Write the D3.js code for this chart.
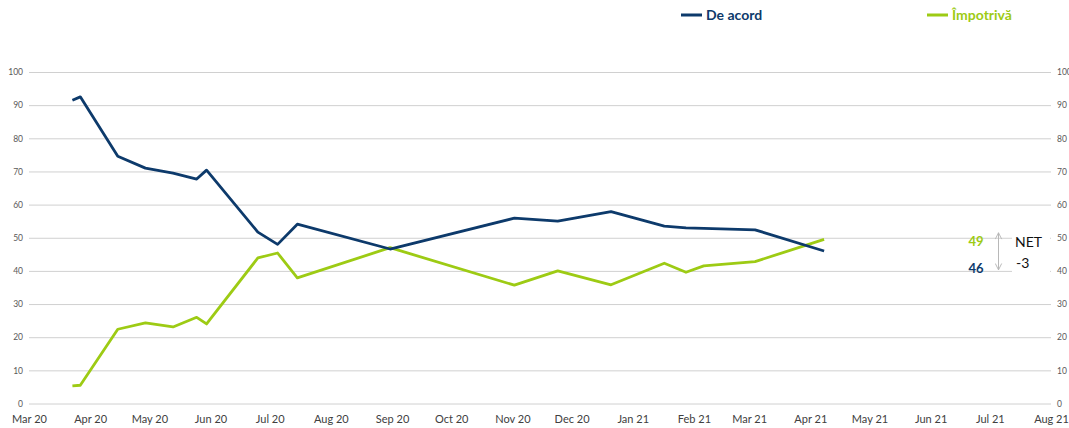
<!DOCTYPE html>
<html><head><meta charset="utf-8">
<script src="https://cdn.jsdelivr.net/npm/d3@7/dist/d3.min.js"></script>
<style>body{margin:0;background:#fff}svg{display:block}</style>
</head><body><svg id="c" width="1069" height="428"></svg>
<script>
const dates = ["2020-03-23","2020-03-27","2020-04-15","2020-04-29","2020-05-13","2020-05-25","2020-05-30","2020-06-25","2020-07-05","2020-07-15","2020-08-31","2020-11-02","2020-11-24","2020-12-21","2021-01-17","2021-01-28","2021-02-06","2021-03-04","2021-04-08"];
const deAcord = [91.5,92.5,74.6,71,69.5,67.7,70.4,51.7,48,54.1,46.6,55.9,55,57.9,53.5,53,52.8,52.4,46];
const impotriva = [5.3,5.5,22.4,24.3,23.1,26,24,43.9,45.4,37.9,47,35.7,40,35.8,42.3,39.6,41.5,42.8,49.5];
const seriesNames = ["De acord","Împotrivă"];
const yTicks = [0,10,20,30,40,50,60,70,80,90,100];
const monthTicks = ["2020-03-01","2020-04-01","2020-05-01","2020-06-01","2020-07-01","2020-08-01","2020-09-01","2020-10-01","2020-11-01","2020-12-01","2021-01-01","2021-02-01","2021-03-01","2021-04-01","2021-05-01","2021-06-01","2021-07-01","2021-08-01"];
const lastValues = [49,46];
const netLabel = ["NET","-3"];

const BLUE="#0d3a6b", GREEN="#9dcb14";
const parse = d3.utcParse("%Y-%m-%d");
const svg = d3.select("#c");
const x = d3.scaleUtc().domain([parse("2020-03-01"), parse("2021-08-01")]).range([29,1051]);
const y = d3.scaleLinear().domain([0,100]).range([403.5,72]);
const font = "Lato, 'Open Sans', sans-serif";

// gridlines
svg.append("g").selectAll("line").data(yTicks).join("line")
  .attr("x1",29).attr("x2",1051).attr("y1",d=>y(d)+0.5).attr("y2",d=>y(d)+0.5)
  .attr("stroke","#d0d0d0").attr("stroke-width",1);

// left axis labels
const la = svg.append("g").attr("transform","translate(23,0)")
  .call(d3.axisLeft(y).tickValues(yTicks).tickSize(0).tickPadding(0));
la.select(".domain").remove();
la.selectAll("text").attr("font-family",font).attr("font-size",8.5).attr("fill","#595959");
const ra = svg.append("g").attr("transform","translate(1057,0)")
  .call(d3.axisRight(y).tickValues(yTicks).tickSize(0).tickPadding(0));
ra.select(".domain").remove();
ra.selectAll("text").attr("font-family",font).attr("font-size",8.5).attr("fill","#595959");

// x axis labels
const xa = svg.append("g").attr("transform","translate(0,409)")
  .call(d3.axisBottom(x).tickValues(monthTicks.map(parse)).tickFormat(d3.utcFormat("%b %y")).tickSize(0).tickPadding(6));
xa.select(".domain").remove();
xa.selectAll("text").attr("font-family",font).attr("font-size",11).attr("fill","#404040");

// lines
const line = d3.line().x((d,i)=>x(parse(dates[i]))).y(d=>y(d));
svg.append("path").datum(impotriva).attr("d",line).attr("fill","none").attr("stroke",GREEN).attr("stroke-width",2.8).attr("stroke-linejoin","round");
svg.append("path").datum(deAcord).attr("d",line).attr("fill","none").attr("stroke",BLUE).attr("stroke-width",2.8).attr("stroke-linejoin","round");

// legend
const leg = [{n:seriesNames[0],c:BLUE,x:681},{n:seriesNames[1],c:GREEN,x:927}];
leg.forEach(l=>{
  svg.append("line").attr("x1",l.x).attr("x2",l.x+21).attr("y1",15).attr("y2",15).attr("stroke",l.c).attr("stroke-width",3);
  svg.append("text").attr("x",l.x+25).attr("y",20).text(l.n).attr("font-family",font).attr("font-weight","bold").attr("font-size",14).attr("fill",l.c);
});

// annotation
svg.append("text").attr("x",976).attr("y",y(50)+8.5).attr("text-anchor","middle").text(lastValues[0])
  .attr("font-family",font).attr("font-weight","bold").attr("font-size",13).attr("fill",GREEN);
svg.append("text").attr("x",976).attr("y",y(40)+2.5).attr("text-anchor","middle").text(lastValues[1])
  .attr("font-family",font).attr("font-weight","bold").attr("font-size",13).attr("fill",BLUE);
const defs = svg.append("defs");
defs.append("marker").attr("id","ah").attr("viewBox","0 0 10 10").attr("refX",9).attr("refY",5)
  .attr("markerWidth",8).attr("markerHeight",8).attr("orient","auto-start-reverse")
  .append("path").attr("d","M1,1 L9,5 L1,9").attr("fill","none").attr("stroke","#b8b8b8").attr("stroke-width",1.2);
svg.append("line").attr("x1",998.5).attr("x2",998.5).attr("y1",y(50)-5).attr("y2",y(40)-1)
  .attr("stroke","#b8b8b8").attr("stroke-width",1).attr("marker-start","url(#ah)").attr("marker-end","url(#ah)");
svg.append("rect").attr("x",1012).attr("y",226).attr("width",38).attr("height",52).attr("fill","#fff");
svg.append("text").attr("x",1015).attr("y",247).text(netLabel[0]).attr("font-family",font).attr("font-size",14).attr("fill","#111");
svg.append("text").attr("x",1016).attr("y",268).text(netLabel[1]).attr("font-family",font).attr("font-size",14).attr("fill","#111");
</script></body></html>
